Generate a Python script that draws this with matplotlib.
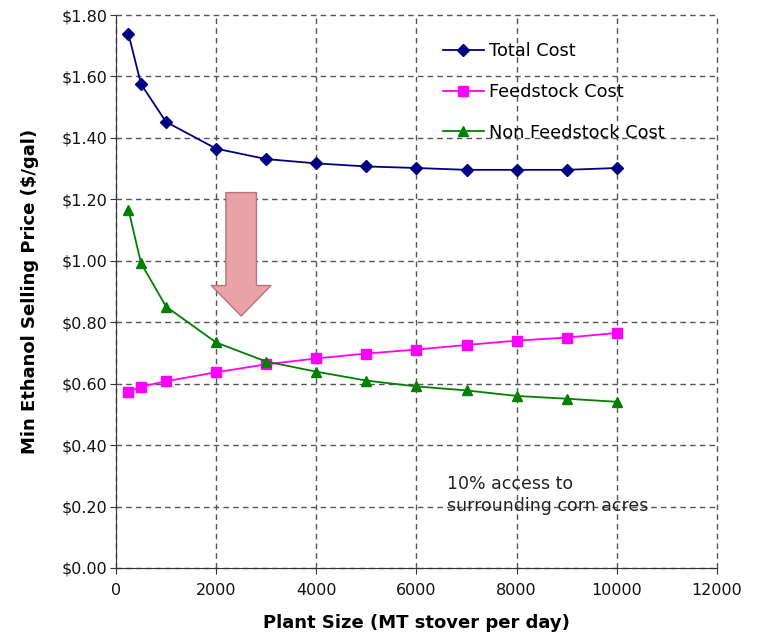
import numpy as np
import matplotlib
matplotlib.use('Agg')
import matplotlib.pyplot as plt
from matplotlib.ticker import FuncFormatter, MultipleLocator

plt.rcParams['font.family'] = ['DejaVu Sans']

# data
plant_size = [250, 500, 1000, 2000, 3000, 4000, 5000, 6000, 7000, 8000, 9000, 10000]
total_cost = [1.738, 1.575, 1.452, 1.365, 1.331, 1.317, 1.307, 1.302, 1.296, 1.296, 1.296, 1.302]
feedstock_cost = [0.574, 0.590, 0.608, 0.637, 0.663, 0.682, 0.698, 0.711, 0.726, 0.740, 0.750, 0.765]
non_feedstock_cost = [1.166, 0.992, 0.851, 0.734, 0.672, 0.639, 0.610, 0.591, 0.578, 0.560, 0.551, 0.541]

note = '10% access to\nsurrounding corn acres'

fig = plt.figure(figsize=(7.61, 6.33), dpi=100)
ax = fig.add_axes([0.1524, 0.1027, 0.7897, 0.8736])

ax.plot(plant_size, total_cost, color='#000080', lw=1.3, marker='D', markersize=6,
        label='Total Cost')
ax.plot(plant_size, feedstock_cost, color='#ff00ff', lw=1.3, marker='s', markersize=6.5,
        label='Feedstock Cost')
ax.plot(plant_size, non_feedstock_cost, color='#008000', lw=1.3, marker='^', markersize=7,
        label='Non Feedstock Cost')

ax.set_xlim(0, 12000)
ax.set_ylim(0, 1.8)
ax.xaxis.set_major_locator(MultipleLocator(2000))
ax.yaxis.set_major_locator(MultipleLocator(0.2))
ax.yaxis.set_major_formatter(FuncFormatter(lambda v, p: f'${v:.2f}'))

ax.grid(True, color='#555555', linestyle=(0, (4, 3)), lw=1)
ax.set_axisbelow(True)
for gl in ax.get_xgridlines() + ax.get_ygridlines():
    gl.set_clip_on(False)
for s in ['top', 'right']:
    ax.spines[s].set_visible(False)
for s in ['left', 'bottom']:
    ax.spines[s].set_color('#333333')
ax.tick_params(axis='both', labelsize=11.5, length=4, color='#333333', labelcolor='#111111')
ax.tick_params(axis='x', pad=7)
ax.tick_params(axis='y', pad=2)

ax.set_xlabel('Plant Size (MT stover per day)', fontsize=13, fontweight='bold', labelpad=11)
ax.set_ylabel('Min Ethanol Selling Price ($/gal)', fontsize=13, fontweight='bold', labelpad=16)

ax.legend(loc='upper left', bbox_to_anchor=(0.544, 0.951), frameon=False, fontsize=12.8,
          borderpad=0, borderaxespad=0, labelspacing=1.28, handlelength=2.3,
          handletextpad=0.3)

ax.text(6600, 0.302, note, fontsize=12.5, color='#222222', va='top', ha='left',
        linespacing=1.3)

# big pink down arrow
ax.annotate('', xy=(2500, 0.82), xytext=(2500, 1.222),
            arrowprops=dict(arrowstyle='simple,head_length=2.2,head_width=4.3,tail_width=2.2',
                            mutation_scale=10, shrinkA=0, shrinkB=0,
                            fc='#e9a2a7', ec='#b7747a', lw=1))

fig.savefig('out.png', dpi=100)
